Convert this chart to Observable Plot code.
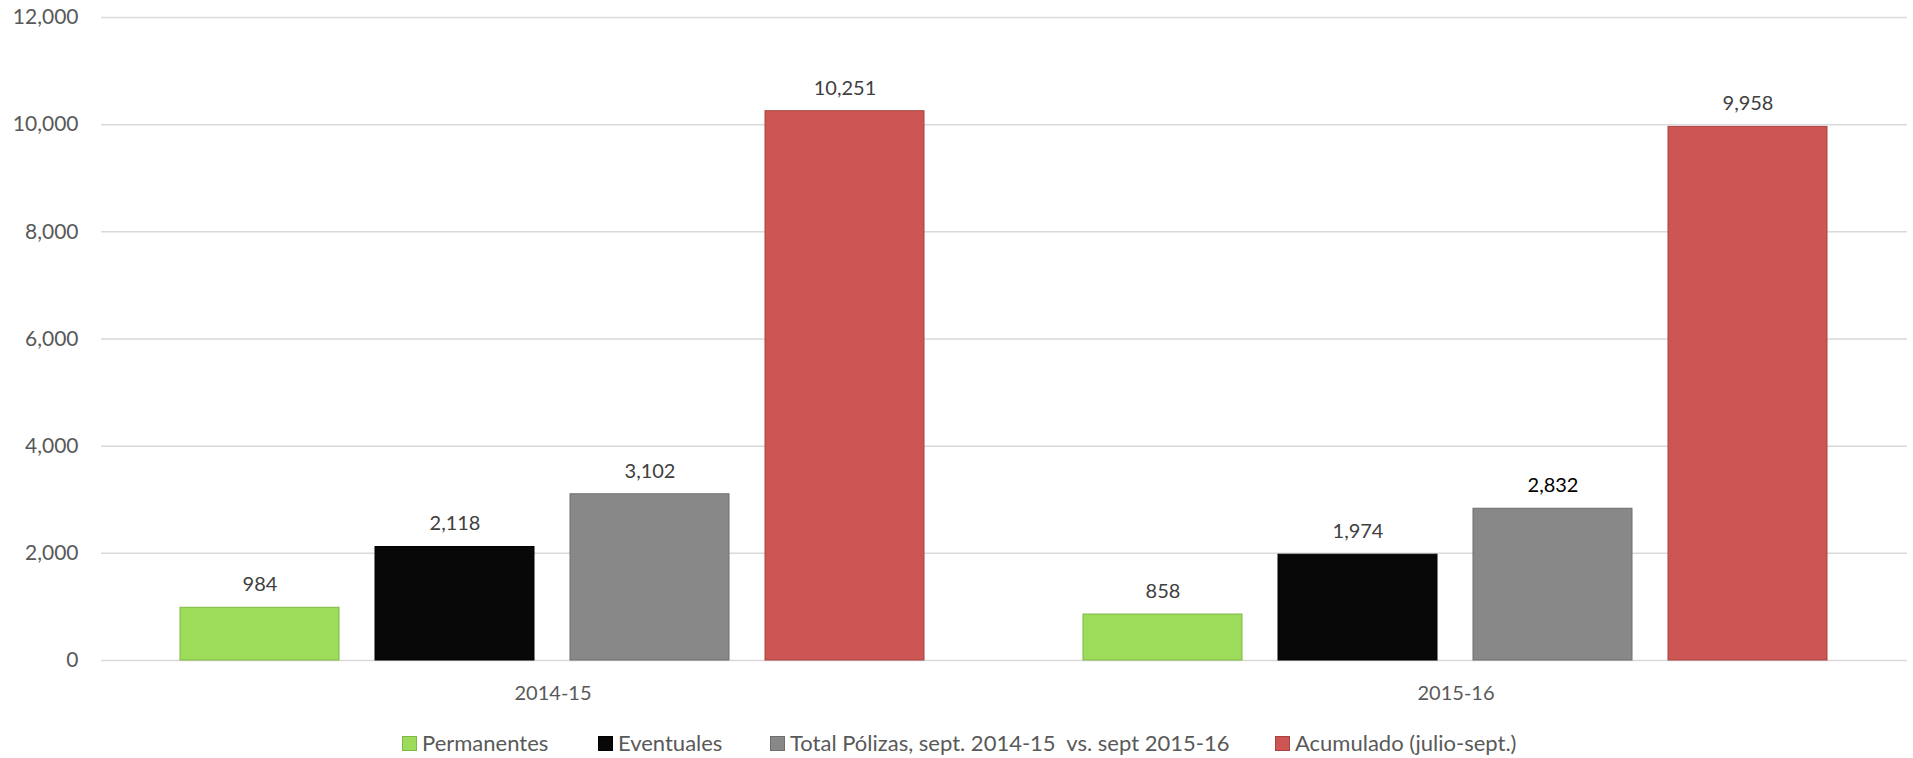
<!DOCTYPE html>
<html>
<head>
<meta charset="utf-8">
<script src="https://cdn.jsdelivr.net/npm/d3@7"></script>
<script src="https://cdn.jsdelivr.net/npm/@observablehq/plot@0.6"></script>
<style>
  html, body { margin: 0; padding: 0; background: #fff; }
  body { width: 1913px; height: 758px; overflow: hidden; font-family: Lato, "Open Sans", sans-serif; }
  #legend { position: relative; height: 38px; font-size: 22px; line-height: 24px; color: #595959; }
  .item { position: absolute; top: 11px; display: flex; align-items: center; white-space: pre; }
  .sw { width: 15px; height: 15px; margin-right: 5px; box-sizing: border-box; }
</style>
</head>
<body>
<div id="chart"></div>
<div id="legend"></div>
<script>
const years = ["2014-15", "2015-16"];
const series = ["Permanentes", "Eventuales", "Total Pólizas, sept. 2014-15  vs. sept 2015-16", "Acumulado (julio-sept.)"];
const values2014 = [984, 2118, 3102, 10251];
const values2015 = [858, 1974, 2832, 9958];
const yTicks = [0, 2000, 4000, 6000, 8000, 10000, 12000];
const colors = ["#9ddb5a", "#080808", "#888888", "#cd5654"];
const strokes = ["#7fb843", "#000000", "#6e6e6e", "#a94341"];
const legendLeft = [402, 598, 770, 1275];

const data = [];
years.forEach((yr, i) => {
  const vals = i === 0 ? values2014 : values2015;
  series.forEach((s, j) => data.push({year: yr, series: s, value: vals[j]}));
});

const fmt = d3.format(",");

const chart = Plot.plot({
  width: 1913,
  height: 720,
  marginLeft: 100,
  marginRight: 6,
  marginTop: 17,
  marginBottom: 60,
  style: {fontFamily: "Lato, 'Open Sans', sans-serif", fontSize: "20px", color: "#595959", background: "#fff"},
  fx: {domain: years, padding: 0, label: null, axis: "bottom", tickSize: 0, tickPadding: 25},
  x: {domain: series, axis: null, paddingInner: 0.184, paddingOuter: 0.405},
  y: {domain: [0, 12000], label: null},
  color: {domain: series, range: colors},
  marks: [
    Plot.ruleY(yTicks, {stroke: "#d9d9d9", strokeWidth: 1.5}),
    Plot.axisY({ticks: yTicks, tickFormat: fmt, tickSize: 0, tickPadding: 23, label: null, fontSize: 21}),
    Plot.barY(data, {
      fx: "year", x: "series", y: "value", fill: "series",
      stroke: d => strokes[series.indexOf(d.series)], strokeWidth: 1
    }),
    Plot.text(data, {
      fx: "year", x: "series", y: "value",
      text: d => fmt(d.value), dy: -23, lineAnchor: "middle",
      fill: d => (d.year === "2015-16" && d.series === series[2]) ? "#000000" : "#404040",
      fontSize: 20
    })
  ]
});
document.getElementById("chart").appendChild(chart);

const legend = document.getElementById("legend");
series.forEach((s, j) => {
  const item = document.createElement("div");
  item.className = "item";
  item.style.left = legendLeft[j] + "px";
  const sw = document.createElement("span");
  sw.className = "sw";
  sw.style.background = colors[j];
  sw.style.border = "1px solid " + strokes[j];
  const t = document.createElement("span");
  t.textContent = s;
  item.appendChild(sw);
  item.appendChild(t);
  legend.appendChild(item);
});
</script>
</body>
</html>
